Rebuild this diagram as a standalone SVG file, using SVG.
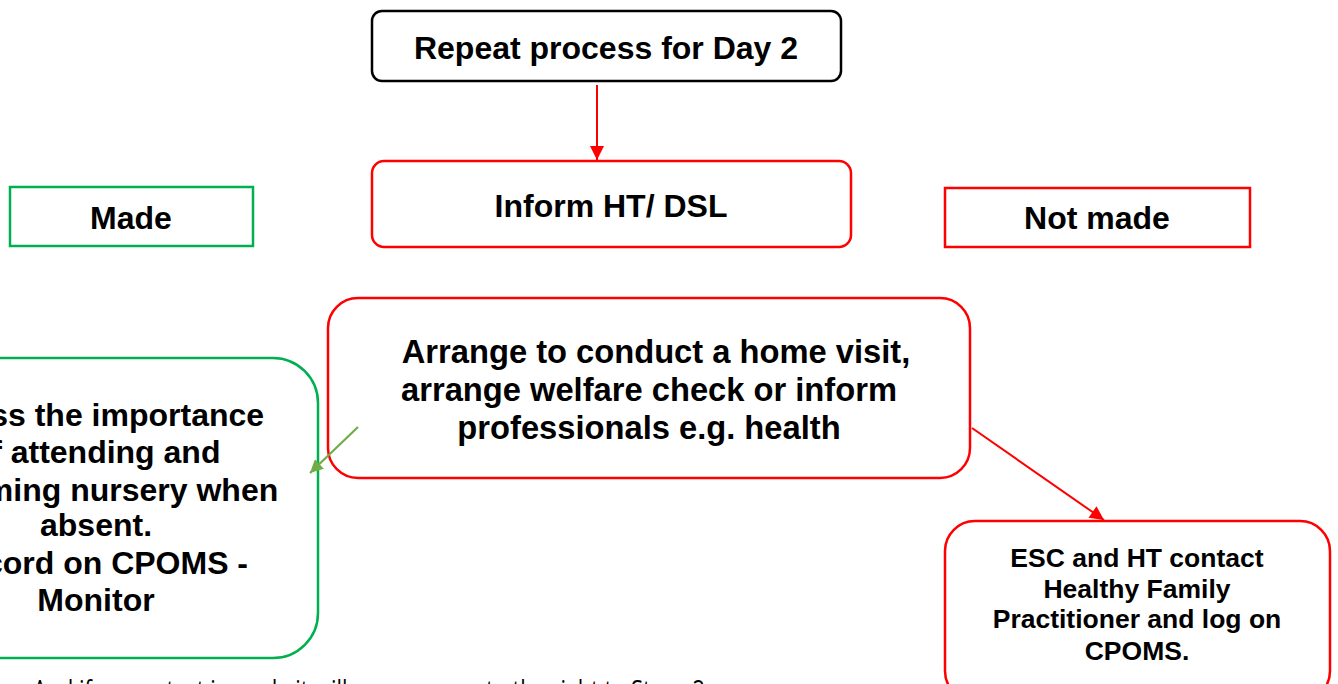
<svg xmlns="http://www.w3.org/2000/svg" width="1338" height="684" viewBox="0 0 1338 684">
<style>
.t{font-family:"Liberation Sans",Arial,sans-serif;font-weight:bold;fill:#000;text-anchor:middle}
.red{fill:#fff;stroke:#ff0000;stroke-width:2.5}
.grn{fill:#fff;stroke:#00b050;stroke-width:2.5}
.blk{fill:#fff;stroke:#000;stroke-width:2.5}
</style>
<defs>
<marker id="ar" viewBox="0 0 10 10" refX="10" refY="5" markerWidth="15" markerHeight="14" markerUnits="userSpaceOnUse" orient="auto"><path d="M0,0L10,5L0,10z" fill="#ff0000"/></marker>
<marker id="ag" viewBox="0 0 10 10" refX="10" refY="5" markerWidth="18" markerHeight="13" markerUnits="userSpaceOnUse" orient="auto"><path d="M0,0L10,5L0,10z" fill="#70ad47"/></marker>
</defs>
<rect width="1338" height="684" fill="#fff"/>
<g id="repeat">
<rect class="blk" x="372" y="11" width="469" height="70" rx="10"/>
<text class="t" x="606" y="59" font-size="32">Repeat process for Day 2</text>
</g>
<g id="inform">
<rect class="red" x="372" y="161" width="479" height="86" rx="12"/>
<text class="t" x="611" y="217" font-size="32">Inform HT/ DSL</text>
</g>
<g id="made">
<rect class="grn" x="10" y="187" width="243" height="59"/>
<text class="t" x="131" y="229" font-size="32">Made</text>
</g>
<g id="notmade">
<rect class="red" x="945" y="188" width="305" height="59"/>
<text class="t" x="1097" y="229" font-size="32">Not made</text>
</g>
<g id="arrange">
<rect class="red" x="328" y="298" width="642" height="180" rx="30"/>
<text class="t" font-size="32.7"><tspan x="656" y="363">Arrange to conduct a home visit,</tspan><tspan x="649" y="401">arrange welfare check or inform</tspan><tspan x="649" y="439">professionals e.g. health</tspan></text>
</g>
<g id="discuss">
<rect class="grn" x="-80" y="358" width="398" height="300" rx="45"/>
<text class="t" font-size="32"><tspan x="96" y="426">Stress the importance</tspan><tspan x="96" y="463">of attending and</tspan><tspan x="96" y="501">informing nursery when</tspan><tspan x="96" y="536">absent.</tspan><tspan x="96" y="574">Record on CPOMS -</tspan><tspan x="96" y="611">Monitor</tspan></text>
</g>
<g id="esc">
<rect class="red" x="945" y="521" width="385" height="180" rx="30"/>
<text class="t" font-size="26.5"><tspan x="1137" y="567">ESC and HT contact</tspan><tspan x="1137" y="598">Healthy Family</tspan><tspan x="1137" y="628">Practitioner and log on</tspan><tspan x="1137" y="660">CPOMS.</tspan></text>
</g>
<g id="connectors">
<line x1="597" y1="85" x2="597" y2="160" stroke="#ff0000" stroke-width="2" marker-end="url(#ar)"/>
<line x1="972" y1="428" x2="1104" y2="520" stroke="#ff0000" stroke-width="2" marker-end="url(#ar)"/>
<line x1="358" y1="427" x2="310" y2="473" stroke="#70ad47" stroke-width="2.2" marker-end="url(#ag)"/>
</g>
<text x="33" y="700" font-family="Open Sans,sans-serif" font-size="27" fill="#000" textLength="672" lengthAdjust="spacingAndGlyphs">And if no contact is made it will move across to the right to Stage 2</text>
</svg>
